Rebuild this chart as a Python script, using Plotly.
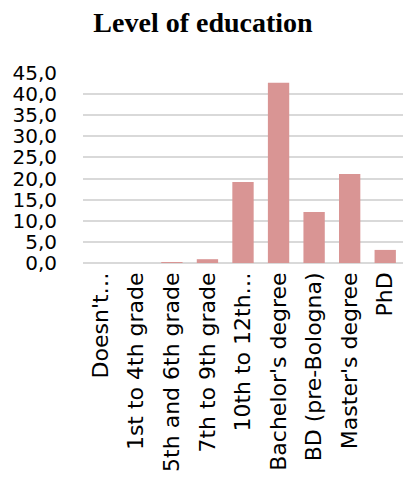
import plotly.graph_objects as go

categories = ["Doesn't…", "1st to 4th grade", "5th and 6th grade", "7th to 9th grade",
              "10th to 12th…", "Bachelor's degree", "BD (pre-Bologna)", "Master's degree", "PhD"]
values = [0.0, 0.0, 0.1, 0.9, 19.2, 42.7, 12.1, 21.1, 3.1]
y_ticks = [0, 5, 10, 15, 20, 25, 30, 35, 40, 45]
y_tick_text = ["0,0", "5,0", "10,0", "15,0", "20,0", "25,0", "30,0", "35,0", "40,0", "45,0"]

fig = go.Figure(go.Bar(
    x=categories, y=values,
    marker=dict(color="#d99594", line=dict(width=0)),
))

fig.update_layout(
    width=406, height=482,
    margin=dict(l=83, r=3, t=73, b=219),
    paper_bgcolor="white", plot_bgcolor="white",
    bargap=0.4,
    showlegend=False,
    title=dict(text="<b>Level of education</b>", x=0.5, xanchor="center",
               y=1 - 22 / 482, yanchor="middle",
               font=dict(family="Liberation Serif", size=28, color="black")),
    font=dict(family="DejaVu Sans", size=21, color="black"),
)
fig.update_yaxes(range=[0, 45], tickvals=y_ticks, ticktext=y_tick_text,
                 showgrid=True, gridcolor="#d9d9d9", gridwidth=1.5,
                 zeroline=True, zerolinecolor="#d9d9d9", zerolinewidth=1.5,
                 showline=False, ticks="", ticklabelstandoff=25,
                 tickfont=dict(family="DejaVu Sans", size=20))
fig.update_xaxes(tickangle=-90, showline=False, ticks="", showgrid=False,
                 ticklabelstandoff=4,
                 tickfont=dict(family="DejaVu Sans", size=22))

fig.write_html("out.html")
